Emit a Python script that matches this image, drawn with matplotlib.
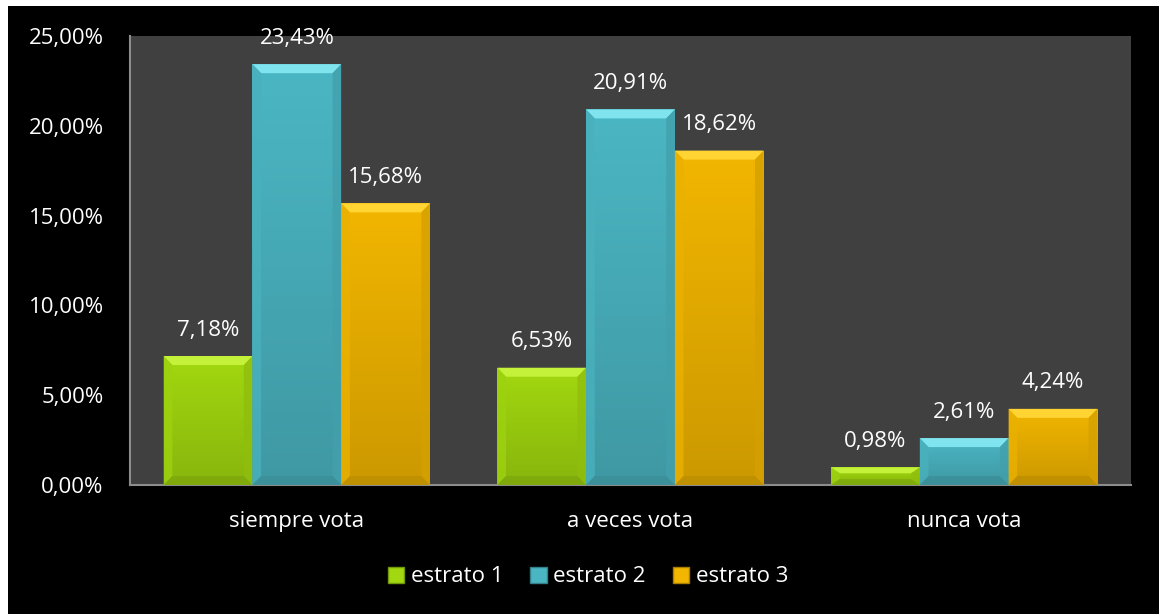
import matplotlib.pyplot as plt
import matplotlib.colors as mcolors
from matplotlib.patches import Rectangle, Polygon
import numpy as np

categories = ["siempre vota", "a veces vota", "nunca vota"]
series_names = ["estrato 1", "estrato 2", "estrato 3"]
estrato_1 = [7.18, 6.53, 0.98]
estrato_2 = [23.43, 20.91, 2.61]
estrato_3 = [15.68, 18.62, 4.24]
y_ticks = [0, 5, 10, 15, 20, 25]

series = [estrato_1, estrato_2, estrato_3]
colors = ["#a2d80f", "#4bb6c3", "#f2b600"]
top_colors = ["#c4f23a", "#80e4ee", "#ffd433"]

plt.rcParams['font.family'] = ['Open Sans', 'DejaVu Sans']

fig = plt.figure(figsize=(11.59, 6.14), dpi=100, facecolor="white")
# black chart frame, white strip at top and left
fig.patches.append(Rectangle((8 / 1159, 0), 1, 1 - 6 / 614, transform=fig.transFigure,
                             facecolor="black", edgecolor="none", zorder=-1))

ax = fig.add_axes([130 / 1159, (614 - 485) / 614, (1131 - 130) / 1159, (485 - 36) / 614])
ax.set_facecolor("#404040")

x = np.arange(len(categories))
width = 0.266
bevel_x = 0.026
bevel_y = 0.5


def shade(c, f):
    r, g, b = mcolors.to_rgb(c)
    return (r * f, g * f, b * f)


for i, (vals, col, tcol) in enumerate(zip(series, colors, top_colors)):
    xs = x + (i - 1) * width
    bars = ax.bar(xs, vals, width, color=col, edgecolor="none", zorder=2, label=series_names[i])
    for bx, v, b in zip(xs, vals, bars):
        left, right = bx - width / 2, bx + width / 2
        # vertical gradient inside the bar
        grad = np.linspace(1.0, 0.84, 64).reshape(-1, 1)
        rgb = np.array(mcolors.to_rgb(col))
        img = grad[..., None] * rgb[None, None, :]
        im = ax.imshow(img, extent=(left, right, 0, v), aspect="auto", zorder=3,
                       interpolation="bicubic")
        im.set_clip_path(b)
        by = min(bevel_y, v / 3)
        # top bevel
        ax.add_patch(Polygon([(left, v), (right, v), (right - bevel_x, v - by), (left + bevel_x, v - by)],
                             closed=True, facecolor=tcol, edgecolor="none", zorder=4))
        # side bevels
        ax.add_patch(Polygon([(right, v), (right, 0), (right - bevel_x, by), (right - bevel_x, v - by)],
                             closed=True, facecolor=shade(col, 0.88), edgecolor="none", zorder=4, alpha=0.8))
        ax.add_patch(Polygon([(left, v), (left, 0), (left + bevel_x, by), (left + bevel_x, v - by)],
                             closed=True, facecolor=shade(col, 0.97), edgecolor="none", zorder=4, alpha=0.8))
        ax.add_patch(Polygon([(left, 0), (right, 0), (right - bevel_x, by), (left + bevel_x, by)],
                             closed=True, facecolor=shade(col, 0.78), edgecolor="none", zorder=4, alpha=0.8))
        ax.text(bx, v + 1.45, f"{v:.2f}%".replace(".", ","), ha="center", va="center",
                color="white", fontsize=16, zorder=5)

ax.set_xlim(-0.5, len(categories) - 0.5)
ax.set_ylim(0, 25)
ax.set_yticks(y_ticks)
ax.set_yticklabels([f"{t:.2f}%".replace(".", ",") for t in y_ticks], color="white", fontsize=16)
ax.set_xticks(x)
ax.set_xticklabels(categories, color="white", fontsize=16)
ax.tick_params(axis="y", length=0, pad=19)
ax.tick_params(axis="x", length=0, pad=19)
for side in ["top", "right"]:
    ax.spines[side].set_visible(False)
for side in ["left", "bottom"]:
    ax.spines[side].set_color("#8c8c8c")
    ax.spines[side].set_linewidth(1.5)

handles = [Rectangle((0, 0), 1, 1, facecolor=c, edgecolor=shade(c, 0.7)) for c in colors]
leg = fig.legend(handles, series_names, loc="center", bbox_to_anchor=(588 / 1159, 1 - 577 / 614),
                 ncol=3, frameon=False, fontsize=16, handlelength=0.75, handleheight=0.75,
                 handletextpad=0.3, columnspacing=1.2, labelcolor="white")

fig.savefig("out.png", dpi=100, facecolor=fig.get_facecolor())
